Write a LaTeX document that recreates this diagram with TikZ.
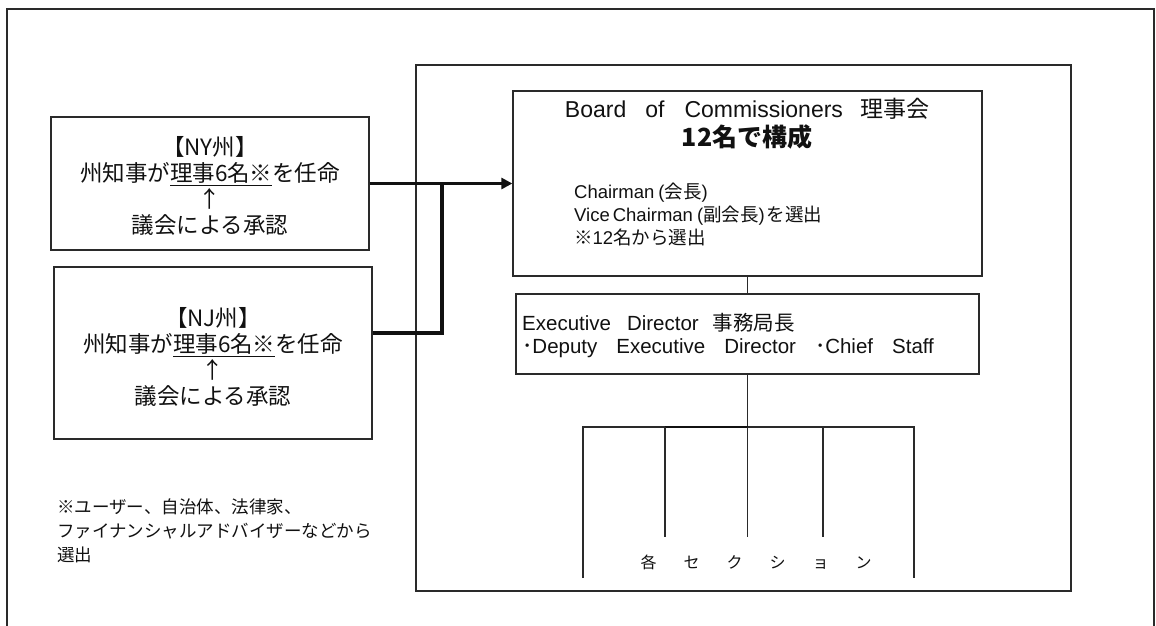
\documentclass[tikz,border=0pt]{standalone}
\usepackage{fontspec}
\setmainfont{Noto Sans CJK JP}
\newfontfamily\lat{Liberation Sans}
\usetikzlibrary{arrows.meta}
\newcommand\myfs[2]{\fontsize{#1}{#2}\selectfont}
\definecolor{ln}{HTML}{2A2A2A}
\definecolor{tx}{HTML}{111111}
\begin{document}
\begin{tikzpicture}[x=1pt,y=-1pt,
  every node/.style={text=tx,inner sep=0pt},
  box/.style n args={2}{draw=ln,line width=1.3pt,minimum width=#1pt,minimum height=#2pt},
  thinln/.style={draw=ln,line width=1.3pt},
  thickln/.style={draw=tx,line width=3.3pt},
  txt/.style={inner sep=0pt}]
\useasboundingbox (0,0) rectangle (1156,625);
\fill[white] (0,0) rectangle (1156,625);
% outer frame
\draw[draw=ln,line width=1.7pt] (7,630) -- (7,9) -- (1154,9) -- (1154,630);
% boxes
\node[box={655}{526}] (main) at (743.5,328) {};
\node[box={318}{133}] (ny) at (210,183.5) {};
\node[box={318}{172}] (nj) at (213,353) {};
\node[box={469}{185}] (board) at (747.5,183.5) {};
\node[box={463}{80}] (exec) at (747.5,334) {};
% connectors
\coordinate (jn) at (442,183.5);
\draw[thickln] ([yshift=20pt]nj.east) -| (jn);
\draw[thickln,-{Triangle[length=11pt,width=11pt]}] (ny.east) -- (board.west);
\draw[thinln] (board.south) -- (exec.north);
\coordinate (s1) at (583,427);
\coordinate (s2) at (665,427);
\coordinate (s3) at (747.5,427);
\coordinate (s4) at (823,427);
\coordinate (s5) at (914,427);
\draw[thinln] (exec.south) -- (s3);
\draw[thinln] ([yshift=-151pt]s1) -- (s1) -- (s5) -- ([yshift=-151pt]s5);
\draw[draw=tx,line width=2pt] (s2) -- (s3);
\draw[thinln] (s2) -- ([yshift=-110pt]s2);
\draw[thinln] (s3) -- ([yshift=-110pt]s3);
\draw[thinln] (s4) -- ([yshift=-110pt]s4);
% texts
\node[txt,font=\myfs{22.5}{26},align=center] (nyt) at (210,186)
  {【NY州】\\州知事が\underline{理事6名※}を任命\\↑\\議会による承認};
\node[txt,font=\myfs{22.5}{26},align=center] (njt) at (213,357)
  {【NJ州】\\州知事が\underline{理事6名※}を任命\\↑\\議会による承認};
\node[txt,font=\myfs{23}{28}] (bt) at (747,109)
  {{\lat Board}\hspace{19pt}{\lat of}\hspace{20pt}{\lat Commissioners}\hspace{17pt}理事会};
\node[txt,font=\myfs{25}{30}\bfseries] (bb) at (747,137) {12名で構成};
\node[txt,font=\myfs{18.5}{23},align=left,anchor=west] (bc) at (574,214)
  {{\lat Chairman\hspace{4pt}(}会長{\lat )}\\{\lat Vice\hspace{3pt}Chairman\hspace{4pt}(}副会長{\lat )}\hspace{2pt}を選出\\※{\lat 12}名から選出};
\node[txt,font=\myfs{20.5}{23},align=left,anchor=west] (et) at (522,335.5)
  {{\lat Executive}\hspace{16pt}{\lat Director}\hspace{14pt}事務局長\\
   ･{\lat Deputy}\hspace{19pt}{\lat Executive}\hspace{19pt}{\lat Director}\hspace{19pt}･{\lat Chief}\hspace{19pt}{\lat Staff}};
\node[txt,font=\myfs{16}{20}] (sec) at (756,562)
  {各\hspace{27pt}セ\hspace{27pt}ク\hspace{27pt}シ\hspace{27pt}ョ\hspace{27pt}ン};
\node[txt,font=\myfs{17.5}{24},align=left,anchor=west] (fn) at (57,531)
  {※ユーザー、自治体、法律家、\\ファイナンシャルアドバイザーなどから\\選出};
\end{tikzpicture}
\end{document}
